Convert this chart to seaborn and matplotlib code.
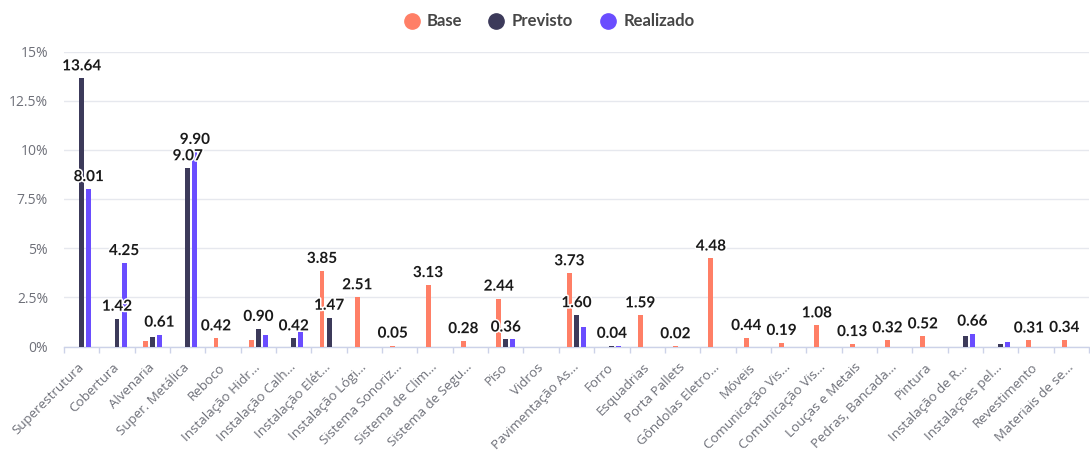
import numpy as np
import pandas as pd
import matplotlib
matplotlib.use("Agg")
import matplotlib.pyplot as plt
import matplotlib.patheffects as pe
from matplotlib.lines import Line2D
from matplotlib.transforms import Bbox
from matplotlib.ticker import FuncFormatter, FixedLocator
import seaborn as sns

# --- data -------------------------------------------------------------
categories = [
    "Superestrutura", "Cobertura", "Alvenaria", "Super. Metálica", "Reboco",
    "Instalação Hidr...", "Instalação Calh...", "Instalação Elét...",
    "Instalação Lógi...", "Sistema Sonoriz...", "Sistema de Clim...",
    "Sistema de Segu...", "Piso", "Vidros", "Pavimentação As...", "Forro",
    "Esquadrias", "Porta Pallets", "Gôndolas Eletro...", "Móveis",
    "Comunicação Vis...", "Comunicação Vis...", "Louças e Metais",
    "Pedras, Bancada...", "Pintura", "Instalação de R...",
    "Instalações pel...", "Revestimento", "Materiais de se...",
]
base = [0, 0, 0.30, 0, 0.42, 0.35, 0, 3.85, 2.51, 0.05, 3.13, 0.28, 2.44, 0,
        3.73, 0, 1.59, 0.02, 4.48, 0.44, 0.19, 1.08, 0.13, 0.32, 0.52, 0, 0,
        0.31, 0.34]
previsto = [13.64, 1.42, 0.47, 9.07, 0, 0.90, 0.42, 1.47, 0, 0, 0, 0, 0.36, 0,
            1.60, 0.04, 0, 0, 0, 0, 0, 0, 0, 0, 0, 0.55, 0.15, 0, 0]
realizado = [8.01, 4.25, 0.61, 9.90, 0, 0.60, 0.73, 0, 0, 0, 0, 0, 0.36, 0,
             0.98, 0.04, 0, 0, 0, 0, 0, 0, 0, 0, 0, 0.66, 0.24, 0, 0]
series = ["Base", "Previsto", "Realizado"]
colors = ["#FF7F66", "#3C3A5A", "#6A4DFF"]
yticks = [0, 2.5, 5, 7.5, 10, 12.5, 15]

# --- long-form table --------------------------------------------------
n = len(categories)
df = pd.DataFrame({
    "pos": list(range(n)) * 3,
    "serie": np.repeat(series, n),
    "valor": base + previsto + realizado,
})

axis_grey = "#6E7079"
line_col = "#CCD2E8"
grid_col = "#E6E8EE"

fig = plt.figure(figsize=(10.9, 4.53), dpi=100)
W, H = 1090, 453
ax = fig.add_axes([64 / W, 1 - 346.5 / H, 1025 / W, 295 / H])

sns.barplot(data=df, x="pos", y="valor", hue="serie", order=list(range(n)),
            hue_order=series, palette=colors, saturation=1, width=0.6,
            gap=0.3, errorbar=None, legend=False, ax=ax, zorder=3)

ax.set_xlim(-0.5, n - 0.5)
ax.set_ylim(0, 15)
ax.set_xlabel("")
ax.set_ylabel("")

# y axis
ax.yaxis.set_major_locator(FixedLocator(yticks))
ax.yaxis.set_major_formatter(FuncFormatter(lambda v, _: f"{v:g}%"))
ax.tick_params(axis="y", length=0, pad=11.5, labelsize=10, labelcolor=axis_grey)
ax.grid(axis="y", color=grid_col, linewidth=1, zorder=0)
ax.grid(axis="x", visible=False)
ax.set_axisbelow(True)
for side in ["top", "right", "left"]:
    ax.spines[side].set_visible(False)
ax.spines["bottom"].set_color(line_col)
ax.spines["bottom"].set_linewidth(1)

# x axis: labels at centers, ticks between categories
ax.set_xticks(range(n))
ax.set_xticklabels(categories)
ax.tick_params(axis="x", which="major", length=0, pad=13.5, labelsize=9.6,
               labelcolor=axis_grey)
ax.xaxis.set_minor_locator(FixedLocator(np.arange(n + 1) - 0.5))
ax.tick_params(axis="x", which="minor", length=4, width=1, color=line_col,
               direction="out")
for lbl in ax.get_xticklabels():
    lbl.set_rotation(45)
    lbl.set_ha("right")
    lbl.set_va("center")
    lbl.set_rotation_mode("anchor")
    lbl.set_fontfamily("Open Sans")
for lbl in ax.get_yticklabels():
    lbl.set_fontfamily("Open Sans")

# --- value labels, hiding the ones that collide -----------------------
labels = []
for p in ax.patches:
    h = p.get_height()
    if h is None or h <= 0:
        continue
    xc = p.get_x() + p.get_width() / 2
    t = ax.annotate(f"{h:.2f}", (xc, h), xytext=(0, 3.5),
                    textcoords="offset points", ha="center", va="bottom",
                    fontsize=11, fontweight="bold", color="#1A1A1A",
                    family="Lato", zorder=5,
                    path_effects=[pe.withStroke(linewidth=2.2, foreground="white")])
    labels.append((h, t))

fig.canvas.draw()
renderer = fig.canvas.get_renderer()
order = sorted(range(len(labels)), key=lambda i: -labels[i][0])
placed = []
box_h = 15.5  # px, height of a label's collision box
box_w = 30.0  # px, width of a label's collision box
for i in order:
    t = labels[i][1]
    bb = t.get_window_extent(renderer)
    cx, cy = (bb.x0 + bb.x1) / 2, (bb.y0 + bb.y1) / 2
    box = Bbox([[cx - box_w / 2, cy - box_h / 2], [cx + box_w / 2, cy + box_h / 2]])
    if any(box.overlaps(o) for o in placed):
        t.set_visible(False)
    else:
        placed.append(box)

# --- legend -----------------------------------------------------------
legend_items = [(412, 427), (496, 512), (608, 624)]
for (cx, tx), name, col in zip(legend_items, series, colors):
    fig.add_artist(Line2D([cx / W], [1 - 21 / H], marker="o", markersize=11,
                          color=col, linestyle="none", transform=fig.transFigure))
    fig.text(tx / W, 1 - 21 / H, name, ha="left", va="center", fontsize=12,
             fontweight="bold", color="#464646", family="Lato")

fig.savefig("out.png", dpi=100)
